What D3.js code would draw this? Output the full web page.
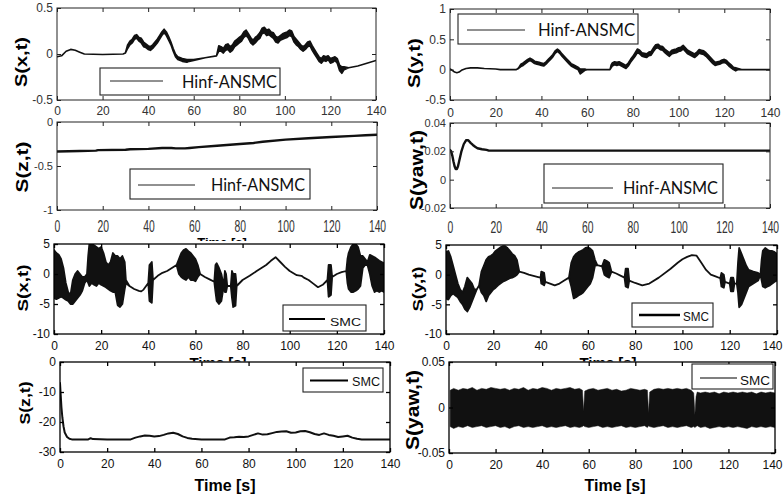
<!DOCTYPE html>
<html><head><meta charset="utf-8">
<script src="https://cdn.jsdelivr.net/npm/d3@7"></script>
<style>body{margin:0;background:#fff}svg{display:block}</style>
</head><body><svg id="c" width="783" height="496"></svg>
<script>
// ---------------- DATA ----------------
const timeTicks = [0,20,40,60,80,100,120,140];
const sxHinfTicks = [0.5,0,-0.5];
const syHinfTicks = [1,0.5,0,-0.5];
const szHinfTicks = [0,-0.5,-1];
const syawHinfTicks = [0.04,0.02,0,-0.02];
const sxSMCTicks = [5,0,-5,-10];
const sySMCTicks = [5,0,-5,-10];
const szSMCTicks = [0,-10,-20,-30];
const syawSMCTicks = [0.05,0,-0.05];

// [t, low, high]  (or [t, value])
const sxHinf = [[0,-0.03,-0.03],[2,-0.02,-0.02],[4,0.03,0.03],[6,0.05,0.05],[8,0.04,0.04],[10,0.02,0.02],[12,0.0,0.0],[20,-0.005,-0.005],[29,0.0,0.0],[30,0.01,0.01],[31,0.06,0.1],[32,0.1,0.14],[33,0.12,0.16],[34,0.16,0.2],[35,0.17,0.21],[36,0.14,0.18],[37,0.12,0.17],[38,0.08,0.13],[39,0.07,0.11],[40,0.05,0.09],[41,0.04,0.08],[42,0.06,0.1],[43,0.09,0.13],[44,0.12,0.16],[45,0.16,0.2],[46,0.2,0.24],[47,0.23,0.27],[48,0.2,0.24],[49,0.15,0.19],[50,0.1,0.13],[51,0.03,0.06],[52,-0.03,0.0],[53,-0.06,-0.03],[55,-0.08,-0.05],[57,-0.09,-0.06],[58,-0.08,-0.06],[60,-0.07,-0.06],[65,-0.04,-0.04],[70,-0.02,-0.02],[71,0.03,0.09],[72,0.03,0.08],[73,0.01,0.06],[74,0.04,0.1],[75,0.05,0.11],[76,0.02,0.08],[77,0.04,0.1],[78,0.08,0.14],[79,0.1,0.16],[80,0.12,0.18],[81,0.14,0.2],[82,0.18,0.24],[83,0.2,0.26],[84,0.17,0.22],[85,0.12,0.18],[86,0.1,0.15],[87,0.12,0.18],[88,0.15,0.2],[89,0.17,0.23],[90,0.22,0.28],[91,0.23,0.29],[92,0.2,0.26],[93,0.21,0.27],[94,0.19,0.24],[95,0.17,0.23],[96,0.13,0.19],[97,0.12,0.18],[98,0.15,0.2],[99,0.16,0.22],[100,0.17,0.23],[101,0.18,0.24],[102,0.2,0.26],[103,0.19,0.25],[104,0.13,0.19],[105,0.1,0.16],[106,0.08,0.13],[107,0.05,0.1],[108,0.03,0.08],[109,0.05,0.1],[110,0.08,0.13],[111,0.09,0.14],[112,0.04,0.09],[113,0.0,0.05],[114,-0.04,0.01],[115,-0.08,-0.03],[116,-0.1,-0.05],[117,-0.07,-0.02],[118,-0.08,-0.03],[119,-0.06,-0.02],[120,-0.1,-0.05],[121,-0.09,-0.04],[122,-0.07,-0.03],[123,-0.1,-0.05],[124,-0.18,-0.12],[125,-0.21,-0.14],[126,-0.17,-0.14],[128,-0.15,-0.15],[132,-0.13,-0.13],[136,-0.1,-0.1],[140,-0.07,-0.07]];

const syHinf = [[0,0.01,0.01],[1,-0.01,-0.01],[2,-0.04,-0.04],[3,-0.05,-0.05],[4,-0.04,-0.04],[5,-0.01,-0.01],[7,0.02,0.02],[9,0.03,0.03],[12,0.03,0.03],[15,0.02,0.02],[20,0.01,0.01],[22,0.0,0.0],[29,0.0,0.0],[30,0.02,0.03],[31,0.05,0.09],[32,0.07,0.11],[33,0.1,0.14],[34,0.13,0.17],[35,0.15,0.19],[36,0.13,0.17],[37,0.1,0.14],[38,0.09,0.13],[39,0.08,0.12],[40,0.07,0.11],[41,0.06,0.1],[42,0.09,0.13],[43,0.13,0.17],[44,0.17,0.21],[45,0.21,0.25],[46,0.27,0.31],[47,0.3,0.34],[48,0.27,0.31],[49,0.22,0.26],[50,0.18,0.22],[51,0.14,0.18],[52,0.1,0.14],[53,0.06,0.1],[54,0.04,0.08],[55,0.02,0.06],[56,0.0,0.04],[57,-0.07,0.01],[58,-0.04,0.01],[59,-0.01,0.01],[60,0.0,0.0],[70,0.0,0.0],[70.5,0.03,0.08],[71,0.06,0.11],[72,0.08,0.13],[73,0.07,0.12],[74,0.08,0.13],[75,0.06,0.11],[76,0.04,0.09],[77,0.02,0.07],[78,0.06,0.11],[79,0.12,0.17],[80,0.17,0.22],[81,0.22,0.28],[82,0.28,0.34],[83,0.26,0.32],[84,0.22,0.28],[85,0.21,0.27],[86,0.2,0.26],[87,0.23,0.29],[88,0.24,0.3],[89,0.3,0.36],[90,0.35,0.41],[91,0.36,0.42],[92,0.33,0.39],[93,0.32,0.38],[94,0.28,0.34],[95,0.25,0.31],[96,0.22,0.28],[97,0.26,0.32],[98,0.27,0.33],[99,0.28,0.34],[100,0.3,0.36],[101,0.31,0.37],[102,0.34,0.4],[103,0.3,0.36],[104,0.26,0.32],[105,0.24,0.3],[106,0.22,0.28],[107,0.2,0.26],[108,0.23,0.29],[109,0.27,0.33],[110,0.26,0.32],[111,0.25,0.31],[112,0.22,0.28],[113,0.18,0.24],[114,0.14,0.2],[115,0.1,0.16],[116,0.07,0.12],[117,0.08,0.13],[118,0.09,0.14],[119,0.11,0.16],[120,0.12,0.17],[121,0.1,0.15],[122,0.06,0.11],[123,0.03,0.08],[124,0.0,0.04],[125,-0.02,0.03],[126,0.0,0.02],[128,0.0,0.0],[140,0.0,0.0]];

const szHinf = [[0,-0.335],[10,-0.33],[17,-0.325],[18,-0.32],[30,-0.315],[32,-0.31],[40,-0.305],[46,-0.295],[50,-0.295],[52,-0.3],[56,-0.3],[58,-0.295],[62,-0.285],[70,-0.27],[80,-0.25],[86,-0.238],[90,-0.225],[100,-0.2],[110,-0.185],[120,-0.17],[130,-0.158],[135,-0.15],[140,-0.145]];

const syawHinf = [[0,0.021],[0.5,0.02],[1,0.017],[1.5,0.013],[2,0.0095],[2.5,0.0075],[3,0.0075],[3.5,0.0095],[4,0.013],[5,0.02],[6,0.025],[7,0.0278],[8,0.0278],[9,0.026],[10,0.0245],[11,0.0232],[12,0.0222],[14,0.0215],[16,0.021],[17,0.0205],[140,0.0205]];

const sxSMC = [[0,-4,4],[1,-4.2,3.5],[2,-4,3.2],[3,-3.8,2.5],[4,-4,1],[5,-4.3,-1.5],[6,-4.5,-3],[7,-5,-3.5],[8,-5,-1],[9,-4.5,0],[10,-4,0.5],[11,-3.5,0],[12,-2.8,-0.5],[13,-1.5,-0.5],[14,-1,0],[14.5,-1.5,3],[15,-2,5],[16,-1.5,5],[17,-1.8,4.8],[18,-2,4.5],[19,-1.5,4.2],[20,-1.8,4.5],[21,-2,3.5],[22,-2.2,2],[23,-2.5,1.5],[24,-2.8,2],[25,-3,3.5],[26,-3,3],[27,-5.2,3],[28,-5.5,2.5],[29,-5,3],[30,-2.5,2],[30.5,-1.5,-1],[32,-2,-2],[34,-2.5,-2.5],[36,-2.8,-2.8],[37,-2.9,-2.9],[38,-2.6,-2.6],[40,-1.5,-1.5],[40.5,-4.5,1.5],[41.5,-4.8,2],[42,-1,-1],[44,-0.3,-0.3],[46,0.2,0.2],[48,0.5,0.5],[50,1,1],[52,1.5,1.5],[53,0,2.5],[54,-0.5,3.5],[55,-0.8,4],[56,-1,4.2],[57,-0.5,3.8],[58,-1,3.5],[59,-1,3],[60,-1.2,2.5],[61,-0.5,1.5],[62,0,0],[64,-0.5,-0.5],[66,-0.9,-0.9],[68,-1.3,-1.3],[68.5,-3,1.5],[69,-4.5,1.8],[70,-5,1],[71,-4.5,0],[72,-2,-2],[72.5,-3,0.5],[73,-3,0],[73.5,-2,-2],[75,-2,-2],[75.5,-4,0.5],[76,-5.5,0],[77,-5.3,0],[77.5,-2,-2],[80,-1,-1],[83,-0.3,-0.3],[86,0.5,0.5],[90,1.5,1.5],[92,2.2,2.2],[94,2.8,2.8],[96,2,2],[98,1.2,1.2],[100,0.5,0.5],[103,-0.2,-0.2],[105,-0.3,-0.3],[106,-0.6,-0.6],[108,-1,-1],[110,-1.6,-1.6],[112,-2.2,-2.2],[114,-1.8,-1.8],[116,-1,-1],[116.5,-3.8,1.5],[117.5,-3.5,1.5],[118,-0.5,-0.5],[120,0,0],[122,0.3,0.3],[124,0.5,0.5],[124.5,-1.5,2.5],[125,-2.5,3.5],[126,-3,4.5],[127,-3,5],[128,-2.8,5],[129,-2.5,4.5],[130,-2,3],[131,1,3],[132,1.5,2.5],[133,1.5,2],[134,0,3.2],[135,-2,3],[136,-3,2.8],[137,-2.8,2.5],[138,-3,2.2],[139,-2.8,2],[140,-3,1.8]];

const sySMC = [[0,-4,3.8],[1,-4.2,4],[2,-3.5,3],[3,-3.2,1.5],[4,-3.5,0],[5,-3.8,-1.5],[6,-4.5,-2.5],[7,-5,-3],[8,-5.8,-2],[9,-6.2,-0.5],[10,-5.5,-1],[11,-4.5,-1.5],[12,-3.5,-2.5],[13,-2.5,-2.5],[14,-1.8,-1.8],[15,-3,0.5],[16,-3.5,1.5],[17,-4.5,2.5],[18,-3.5,3],[19,-3,3.2],[20,-2.5,3.5],[21,-2.2,4],[22,-1.8,4.3],[23,-1.5,4.6],[24,-1.2,4.8],[25,-1,4.8],[26,-0.8,4.5],[27,-0.6,4],[28,-0.5,3.5],[29,-0.3,3.2],[30,0,2.5],[31,0.5,0.5],[33,0.3,0.3],[35,0,0],[37,-0.2,-0.2],[39,-0.4,-0.4],[40,-0.5,-0.5],[40.3,-1.5,0.5],[41.5,-1.8,0.3],[42,-1.2,-1.2],[44,-1.5,-1.5],[46,-1.8,-1.8],[48,-1.5,-1.5],[50,-1,-1],[52,-0.5,-0.5],[53,-2,2],[54,-4,3],[55,-3.8,3.5],[56,-3.5,3.8],[57,-3.3,4],[58,-3,4.2],[59,-2.5,4.5],[60,-2,4.6],[61,-1.5,4.4],[62,-0.5,4],[63,1.5,2.5],[64,1.6,1.6],[66,1.4,1.4],[67,0,2.5],[68,-0.3,2.3],[69,-0.5,2],[70,0.5,0.5],[72,0.2,0.2],[74,-0.2,-0.2],[75.5,-0.5,-0.5],[76,-2,1],[77,-2.2,1],[77.5,-1,-1],[80,-1.4,-1.4],[83,-1.8,-1.8],[86,-1.5,-1.5],[90,-0.5,-0.5],[95,1,1],[98,2,2],[100,2.6,2.6],[102,3,3],[104,3.3,3.3],[106,3.2,3.2],[108,2,2],[110,0.8,0.8],[112,0,0],[114,-0.3,-0.3],[116,-0.6,-0.6],[116.5,-2,0.3],[117.5,-2.2,0],[118,-1.2,-1.2],[120,-1.5,-1.5],[120.5,-2.8,-0.5],[121.5,-2.8,-0.5],[122,-1.5,-1.5],[123,-1.5,-1.5],[123.5,-3,2],[124,-5.5,4.5],[125,-5,3.5],[126,-4,2.5],[127,-3,1.5],[128,-2,0.8],[130,-1.5,0.5],[132,-1,0.3],[133,0,0],[133.5,-1,2.5],[134,-2,4],[135,-2.2,4.5],[136,-2,4.2],[137,-1.8,4],[138,-1.5,4],[139,-1.2,3.8],[140,-1,3.5]];

const szSMC = [[0,-7],[0.3,-11],[0.6,-15],[1,-18.5],[1.5,-21.5],[2,-23.5],[3,-25],[4,-25.6],[5,-25.8],[12,-25.8],[13,-25.4],[14,-25.7],[20,-25.8],[30,-25.8],[32,-25.2],[34,-24.8],[36,-24.5],[38,-24.6],[40,-24.8],[42,-24.7],[44,-24.3],[46,-23.8],[48,-23.6],[50,-24],[52,-24.8],[54,-25.3],[56,-25.6],[60,-25.8],[70,-25.8],[72,-25.2],[74,-25.1],[76,-24.9],[78,-25],[80,-24.8],[82,-24.3],[84,-23.8],[86,-24.2],[88,-24.1],[90,-23.7],[92,-23.3],[94,-23.2],[96,-23.1],[98,-23.6],[100,-23.5],[102,-23.1],[104,-23],[106,-23.4],[108,-24],[110,-24.3],[112,-23.8],[114,-24.3],[116,-24.6],[118,-25],[120,-24.8],[122,-24.6],[124,-25.2],[126,-25.6],[128,-25.8],[140,-25.8]];

const syawSMC = [[0.5,-0.021,0.019],[2,-0.023,0.021],[4,-0.021,0.019],[6,-0.022,0.021],[8,-0.02,0.02],[10,-0.022,0.022],[12,-0.021,0.019],[14,-0.02,0.021],[16,-0.022,0.02],[18,-0.021,0.022],[20,-0.02,0.021],[22,-0.022,0.02],[24,-0.021,0.021],[26,-0.023,0.019],[28,-0.021,0.021],[30,-0.02,0.02],[32,-0.022,0.022],[34,-0.021,0.019],[36,-0.022,0.021],[38,-0.021,0.02],[40,-0.02,0.022],[42,-0.022,0.021],[44,-0.021,0.019],[46,-0.022,0.021],[48,-0.021,0.02],[50,-0.02,0.021],[52,-0.022,0.022],[54,-0.021,0.02],[56,-0.022,0.021],[57.3,-0.021,0.019],[57.8,-0.02,-0.004],[58.3,-0.021,0.018],[60,-0.022,0.02],[62,-0.021,0.021],[64,-0.02,0.019],[66,-0.022,0.02],[68,-0.021,0.021],[70,-0.022,0.019],[72,-0.021,0.02],[74,-0.02,0.018],[76,-0.022,0.019],[78,-0.021,0.021],[80,-0.022,0.02],[82,-0.021,0.019],[84,-0.02,0.02],[85.2,-0.022,0.019],[85.7,-0.02,-0.006],[86.2,-0.021,0.017],[88,-0.022,0.02],[90,-0.021,0.021],[92,-0.02,0.02],[94,-0.022,0.021],[96,-0.021,0.02],[98,-0.022,0.021],[100,-0.021,0.02],[102,-0.02,0.021],[104,-0.022,0.019],[105.1,-0.021,0.016],[105.6,-0.022,-0.008],[106.1,-0.021,0.012],[106.6,-0.02,0.017],[108,-0.022,0.016],[110,-0.021,0.017],[112,-0.023,0.016],[114,-0.022,0.017],[116,-0.021,0.015],[118,-0.022,0.017],[120,-0.021,0.016],[122,-0.022,0.017],[124,-0.021,0.016],[126,-0.022,0.017],[128,-0.023,0.016],[130,-0.021,0.017],[132,-0.022,0.015],[134,-0.021,0.017],[136,-0.022,0.016],[138,-0.021,0.017],[140,-0.022,0.016]];

const legendHinf = "Hinf-ANSMC";
const legendSMC = "SMC";
const xAxisTitle = "Time [s]";

// ---------------- LAYOUT ----------------
const SANS = "'Liberation Sans', Arial, sans-serif";
const styleTop = {fs:12, fill:"#333", sx:1, sy:1.1, frameW:1, frame:"#222"};
const styleMid = {fs:11.5, fill:"#333", sx:0.9, sy:1.45, frameW:1, frame:"#222"};
const styleLow = {fs:12, fill:"#111", sx:1, sy:1, frameW:1.3, frame:"#000"};

const panels = [
 {id:"A", data:sxHinf, dom:[-0.5,0.5], ticks:sxHinfTicks, plot:[57,376,8,100], sw:1.6, st:styleTop, xOff:15, yl:{t:"S(x,t)",cx:21,cy:62,fs:17,len:50},
  lg:{box:[100,280,68,95], line:[110,163,81], lw:1, lc:"#222", tx:182, ty:88, t:legendHinf, fs:17, len:95, ff:"Lato, 'Open Sans', sans-serif"}},
 {id:"B", data:syHinf, dom:[-0.5,1], ticks:syHinfTicks, plot:[450,770,9,100], sw:1.6, st:styleTop, xOff:17, yl:{t:"S(y,t)",cx:414,cy:63,fs:17,len:50},
  lg:{box:[458,638,14,44], line:[467,525,30], lw:1, lc:"#222", tx:538, ty:36, t:legendHinf, fs:17, len:97, ff:"Lato, 'Open Sans', sans-serif"}},
 {id:"C", data:szHinf, dom:[-1,0], ticks:szHinfTicks, plot:[57,377,122,210], sw:2.4, st:styleMid, xOff:22, yl:{t:"S(z,t)",cx:22.5,cy:167,fs:17,len:51},
  lg:{box:[130,310,169,199], line:[138,195,185], lw:1, lc:"#222", tx:211, ty:191, t:legendHinf, fs:17, len:94, ff:"Lato, 'Open Sans', sans-serif"}},
 {id:"D", data:syawHinf, dom:[-0.02,0.04], ticks:syawHinfTicks, plot:[450,770,123,208], sw:2.4, st:styleMid, xOff:25, yl:{t:"S(yaw,t)",cx:416.5,cy:170,fs:18,len:80},
  lg:{box:[544,723,164,203], line:[552,613,188], lw:1, lc:"#222", tx:623, ty:194, t:legendHinf, fs:17, len:95, ff:"Lato, 'Open Sans', sans-serif"}},
 {id:"E", data:sxSMC, dom:[-10,5], ticks:sxSMCTicks, plot:[54,384,244,334], sw:1.8, st:styleLow, xOff:16, yl:{t:"S(x,t)",cx:22,cy:288,fs:15,len:47},
  lg:{box:[283,366,305,331], line:[289,325,319], lw:2, lc:"#000", tx:330, ty:326, t:legendSMC, fs:11.5, len:31, ff:SANS}},
 {id:"F", data:sySMC, dom:[-10,5], ticks:sySMCTicks, plot:[446,777,245,334], sw:1.8, st:styleLow, xOff:16, yl:{t:"S(y,t)",cx:417,cy:289,fs:15,len:45},
  lg:{box:[632,713,303,327], line:[639,680,315], lw:2.5, lc:"#000", tx:683, ty:321, t:legendSMC, fs:12.5, len:26, ff:SANS}},
 {id:"G", data:szSMC, dom:[-30,0], ticks:szSMCTicks, plot:[60,390,362,452], sw:2, st:styleLow, xOff:16, yl:{t:"S(z,t)",cx:24,cy:403,fs:15,len:43},
  lg:{box:[303,383,368,392], line:[310,348,380.5], lw:2, lc:"#000", tx:352, ty:386, t:legendSMC, fs:12, len:28, ff:SANS}},
 {id:"H", data:syawSMC, dom:[-0.05,0.05], ticks:syawSMCTicks, plot:[449,775,362,453], sw:0.5, st:styleLow, xOff:16, yl:{t:"S(yaw,t)",cx:412,cy:410,fs:19,len:80},
  lg:{box:[692,773,364,389], line:[700,737,378], lw:1.3, lc:"#555", tx:740, ty:385, t:legendSMC, fs:12, len:30, ff:SANS}}
];

// ---------------- DRAW ----------------
const svg = d3.select("#c");
svg.append("rect").attr("width",783).attr("height",496).attr("fill","#fff");
const defs = svg.append("defs");

function drawPanel(p){
  const [x0,x1,y0,y1] = p.plot;
  const st = p.st;
  const g = svg.append("g");
  const x = d3.scaleLinear().domain([0,140]).range([x0,x1]);
  const y = d3.scaleLinear().domain(p.dom).range([y1,y0]);
  g.append("rect").attr("x",x0).attr("y",y0).attr("width",x1-x0).attr("height",y1-y0).attr("fill","#fff");
  defs.append("clipPath").attr("id","clip"+p.id).append("rect")
    .attr("x",x0).attr("y",y0).attr("width",x1-x0).attr("height",y1-y0);
  const rows = p.data.map(d=>({t:d[0], lo:d[1], hi:d.length>2?d[2]:d[1]}));
  const area = d3.area().x(d=>x(d.t)).y0(d=>y(d.lo)).y1(d=>y(d.hi));
  g.append("path").datum(rows).attr("clip-path","url(#clip"+p.id+")").attr("d",area)
    .attr("fill","#111").attr("stroke","#111").attr("stroke-width",p.sw).attr("stroke-linejoin","round");

  const mk = (gen,tx,ty)=>g.append("g").attr("transform",`translate(${tx},${ty})`).call(gen);
  const fmt = d=>String(d);
  const bottom = mk(d3.axisBottom(x).tickValues(timeTicks).tickSize(-4).tickFormat(fmt),0,y1);
  const top = mk(d3.axisTop(x).tickValues(timeTicks).tickSize(-4).tickFormat(""),0,y0);
  const left = mk(d3.axisLeft(y).tickValues(p.ticks).tickSize(-4).tickFormat(fmt),x0,0);
  const right = mk(d3.axisRight(y).tickValues(p.ticks).tickSize(-4).tickFormat(""),x1,0);
  [bottom,top,left,right].forEach(a=>{
    a.select(".domain").remove();
    a.selectAll("line").attr("stroke",st.frame).attr("stroke-width",st.frameW);
  });
  bottom.selectAll("text").attr("dy",null).attr("y",p.xOff/st.sy)
    .attr("transform",`scale(${st.sx},${st.sy})`)
    .style("font-family",SANS).style("font-size",st.fs+"px").attr("fill",st.fill);
  // keep labels inside the picture
  bottom.selectAll(".tick").each(function(d){
    const t = d3.select(this).select("text");
    const w = t.node().getComputedTextLength()*st.sx;
    const over = x(d) + w/2 - 782;
    if (over > 0) t.attr("x", -over/st.sx);
  });
  left.selectAll("text").attr("x",-4)
    .style("font-family",SANS).style("font-size",(st===styleMid?11:st.fs)+"px").attr("fill",st.fill);

  g.append("rect").attr("x",x0).attr("y",y0).attr("width",x1-x0).attr("height",y1-y0)
    .attr("fill","none").attr("stroke",st.frame).attr("stroke-width",st.frameW);

  // y-axis title
  g.append("text").attr("transform",`translate(${p.yl.cx},${p.yl.cy}) rotate(-90)`)
    .attr("text-anchor","middle").attr("dominant-baseline","central")
    .attr("textLength",p.yl.len).attr("lengthAdjust","spacingAndGlyphs")
    .style("font-family",SANS).style("font-weight","bold").style("font-size",p.yl.fs+"px")
    .attr("fill","#000").text(p.yl.t);

  // legend
  const L = p.lg;
  g.append("rect").attr("x",L.box[0]).attr("y",L.box[2])
    .attr("width",L.box[1]-L.box[0]).attr("height",L.box[3]-L.box[2])
    .attr("fill","#fff").attr("stroke","#222").attr("stroke-width",1.1);
  g.append("line").attr("x1",L.line[0]).attr("x2",L.line[1]).attr("y1",L.line[2]).attr("y2",L.line[2])
    .attr("stroke",L.lc).attr("stroke-width",L.lw);
  g.append("text").attr("x",L.tx).attr("y",L.ty).attr("textLength",L.len).attr("lengthAdjust","spacingAndGlyphs")
    .style("font-family",L.ff).style("font-size",L.fs+"px").attr("fill","#111").text(L.t);
}

function timeTitle(cx, by, fs){
  svg.append("text").attr("x",cx).attr("y",by).attr("text-anchor","middle")
    .style("font-family",SANS).style("font-weight","bold").style("font-size",fs+"px")
    .attr("fill","#000").text(xAxisTitle);
}
function cover(yTop){
  svg.append("rect").attr("x",0).attr("y",yTop).attr("width",783).attr("height",496-yTop).attr("fill","#fff");
}

// row 1 & 2
panels.slice(0,4).forEach(drawPanel);
timeTitle(222, 247, 13);
// row 3 pasted over
cover(241);
panels.slice(4,6).forEach(drawPanel);
timeTitle(218, 368, 15);
timeTitle(608, 368, 15);
// row 4 pasted over
cover(361.5);
panels.slice(6,8).forEach(drawPanel);
timeTitle(225, 491, 16);
timeTitle(615, 491, 16);
</script>
</body></html>
